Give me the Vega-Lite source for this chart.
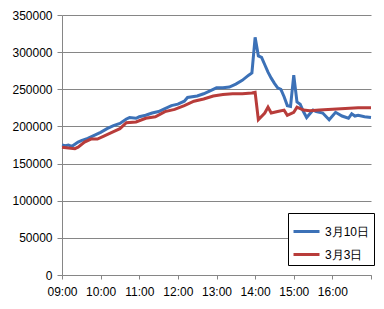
{
  "$schema": "https://vega.github.io/schema/vega-lite/v6.json",
  "width": 309,
  "height": 260,
  "autosize": "none",
  "padding": {"left": 62, "top": 15, "right": 13, "bottom": 34},
  "background": "white",
  "config": {
    "view": {"stroke": null}
  },
  "data": {
    "values": [
      {"time": "2000-01-01T09:00:00", "series": "3月10日", "value": 175000},
      {"time": "2000-01-01T09:05:00", "series": "3月10日", "value": 174000},
      {"time": "2000-01-01T09:10:00", "series": "3月10日", "value": 175000},
      {"time": "2000-01-01T09:15:00", "series": "3月10日", "value": 173000},
      {"time": "2000-01-01T09:20:00", "series": "3月10日", "value": 176000},
      {"time": "2000-01-01T09:25:00", "series": "3月10日", "value": 179000},
      {"time": "2000-01-01T09:30:00", "series": "3月10日", "value": 181000},
      {"time": "2000-01-01T09:40:00", "series": "3月10日", "value": 184000},
      {"time": "2000-01-01T09:50:00", "series": "3月10日", "value": 188000},
      {"time": "2000-01-01T10:00:00", "series": "3月10日", "value": 192000},
      {"time": "2000-01-01T10:10:00", "series": "3月10日", "value": 197000},
      {"time": "2000-01-01T10:20:00", "series": "3月10日", "value": 201000},
      {"time": "2000-01-01T10:30:00", "series": "3月10日", "value": 204000},
      {"time": "2000-01-01T10:40:00", "series": "3月10日", "value": 210000},
      {"time": "2000-01-01T10:45:00", "series": "3月10日", "value": 212000},
      {"time": "2000-01-01T10:55:00", "series": "3月10日", "value": 211000},
      {"time": "2000-01-01T11:00:00", "series": "3月10日", "value": 213000},
      {"time": "2000-01-01T11:10:00", "series": "3月10日", "value": 215000},
      {"time": "2000-01-01T11:20:00", "series": "3月10日", "value": 218000},
      {"time": "2000-01-01T11:30:00", "series": "3月10日", "value": 220000},
      {"time": "2000-01-01T11:40:00", "series": "3月10日", "value": 224000},
      {"time": "2000-01-01T11:50:00", "series": "3月10日", "value": 228000},
      {"time": "2000-01-01T12:00:00", "series": "3月10日", "value": 230000},
      {"time": "2000-01-01T12:10:00", "series": "3月10日", "value": 234000},
      {"time": "2000-01-01T12:15:00", "series": "3月10日", "value": 239000},
      {"time": "2000-01-01T12:30:00", "series": "3月10日", "value": 241000},
      {"time": "2000-01-01T12:40:00", "series": "3月10日", "value": 244000},
      {"time": "2000-01-01T12:50:00", "series": "3月10日", "value": 248000},
      {"time": "2000-01-01T13:00:00", "series": "3月10日", "value": 252000},
      {"time": "2000-01-01T13:10:00", "series": "3月10日", "value": 252000},
      {"time": "2000-01-01T13:20:00", "series": "3月10日", "value": 253000},
      {"time": "2000-01-01T13:30:00", "series": "3月10日", "value": 257000},
      {"time": "2000-01-01T13:40:00", "series": "3月10日", "value": 262000},
      {"time": "2000-01-01T13:50:00", "series": "3月10日", "value": 269000},
      {"time": "2000-01-01T13:55:00", "series": "3月10日", "value": 272000},
      {"time": "2000-01-01T14:00:00", "series": "3月10日", "value": 320000},
      {"time": "2000-01-01T14:05:00", "series": "3月10日", "value": 295000},
      {"time": "2000-01-01T14:10:00", "series": "3月10日", "value": 293000},
      {"time": "2000-01-01T14:15:00", "series": "3月10日", "value": 283000},
      {"time": "2000-01-01T14:20:00", "series": "3月10日", "value": 273000},
      {"time": "2000-01-01T14:25:00", "series": "3月10日", "value": 265000},
      {"time": "2000-01-01T14:30:00", "series": "3月10日", "value": 258000},
      {"time": "2000-01-01T14:35:00", "series": "3月10日", "value": 252000},
      {"time": "2000-01-01T14:40:00", "series": "3月10日", "value": 250000},
      {"time": "2000-01-01T14:45:00", "series": "3月10日", "value": 240000},
      {"time": "2000-01-01T14:50:00", "series": "3月10日", "value": 228000},
      {"time": "2000-01-01T14:55:00", "series": "3月10日", "value": 227000},
      {"time": "2000-01-01T15:00:00", "series": "3月10日", "value": 269000},
      {"time": "2000-01-01T15:05:00", "series": "3月10日", "value": 233000},
      {"time": "2000-01-01T15:10:00", "series": "3月10日", "value": 230000},
      {"time": "2000-01-01T15:15:00", "series": "3月10日", "value": 220000},
      {"time": "2000-01-01T15:20:00", "series": "3月10日", "value": 212000},
      {"time": "2000-01-01T15:30:00", "series": "3月10日", "value": 222000},
      {"time": "2000-01-01T15:35:00", "series": "3月10日", "value": 220000},
      {"time": "2000-01-01T15:45:00", "series": "3月10日", "value": 218000},
      {"time": "2000-01-01T15:55:00", "series": "3月10日", "value": 209000},
      {"time": "2000-01-01T16:05:00", "series": "3月10日", "value": 219000},
      {"time": "2000-01-01T16:15:00", "series": "3月10日", "value": 214000},
      {"time": "2000-01-01T16:25:00", "series": "3月10日", "value": 211000},
      {"time": "2000-01-01T16:30:00", "series": "3月10日", "value": 217000},
      {"time": "2000-01-01T16:35:00", "series": "3月10日", "value": 214000},
      {"time": "2000-01-01T16:40:00", "series": "3月10日", "value": 215000},
      {"time": "2000-01-01T16:50:00", "series": "3月10日", "value": 213000},
      {"time": "2000-01-01T17:00:00", "series": "3月10日", "value": 212000},
      {"time": "2000-01-01T09:00:00", "series": "3月3日", "value": 172000},
      {"time": "2000-01-01T09:10:00", "series": "3月3日", "value": 171000},
      {"time": "2000-01-01T09:20:00", "series": "3月3日", "value": 170000},
      {"time": "2000-01-01T09:25:00", "series": "3月3日", "value": 172000},
      {"time": "2000-01-01T09:35:00", "series": "3月3日", "value": 179000},
      {"time": "2000-01-01T09:45:00", "series": "3月3日", "value": 183000},
      {"time": "2000-01-01T09:55:00", "series": "3月3日", "value": 183000},
      {"time": "2000-01-01T10:05:00", "series": "3月3日", "value": 187000},
      {"time": "2000-01-01T10:20:00", "series": "3月3日", "value": 193000},
      {"time": "2000-01-01T10:30:00", "series": "3月3日", "value": 197000},
      {"time": "2000-01-01T10:40:00", "series": "3月3日", "value": 205000},
      {"time": "2000-01-01T10:55:00", "series": "3月3日", "value": 206000},
      {"time": "2000-01-01T11:10:00", "series": "3月3日", "value": 211000},
      {"time": "2000-01-01T11:25:00", "series": "3月3日", "value": 213000},
      {"time": "2000-01-01T11:40:00", "series": "3月3日", "value": 220000},
      {"time": "2000-01-01T11:55:00", "series": "3月3日", "value": 223000},
      {"time": "2000-01-01T12:10:00", "series": "3月3日", "value": 228000},
      {"time": "2000-01-01T12:25:00", "series": "3月3日", "value": 234000},
      {"time": "2000-01-01T12:40:00", "series": "3月3日", "value": 237000},
      {"time": "2000-01-01T12:55:00", "series": "3月3日", "value": 241000},
      {"time": "2000-01-01T13:10:00", "series": "3月3日", "value": 243000},
      {"time": "2000-01-01T13:25:00", "series": "3月3日", "value": 244000},
      {"time": "2000-01-01T13:40:00", "series": "3月3日", "value": 244000},
      {"time": "2000-01-01T13:55:00", "series": "3月3日", "value": 245000},
      {"time": "2000-01-01T14:00:00", "series": "3月3日", "value": 246000},
      {"time": "2000-01-01T14:05:00", "series": "3月3日", "value": 209000},
      {"time": "2000-01-01T14:15:00", "series": "3月3日", "value": 218000},
      {"time": "2000-01-01T14:20:00", "series": "3月3日", "value": 226000},
      {"time": "2000-01-01T14:25:00", "series": "3月3日", "value": 218000},
      {"time": "2000-01-01T14:35:00", "series": "3月3日", "value": 220000},
      {"time": "2000-01-01T14:45:00", "series": "3月3日", "value": 222000},
      {"time": "2000-01-01T14:50:00", "series": "3月3日", "value": 215000},
      {"time": "2000-01-01T15:00:00", "series": "3月3日", "value": 219000},
      {"time": "2000-01-01T15:05:00", "series": "3月3日", "value": 226000},
      {"time": "2000-01-01T15:15:00", "series": "3月3日", "value": 222000},
      {"time": "2000-01-01T15:25:00", "series": "3月3日", "value": 221000},
      {"time": "2000-01-01T15:40:00", "series": "3月3日", "value": 222000},
      {"time": "2000-01-01T16:00:00", "series": "3月3日", "value": 223000},
      {"time": "2000-01-01T16:20:00", "series": "3月3日", "value": 224000},
      {"time": "2000-01-01T16:40:00", "series": "3月3日", "value": 225000},
      {"time": "2000-01-01T17:00:00", "series": "3月3日", "value": 225000}
    ]
  },
  "mark": {"type": "line", "strokeWidth": 3},
  "encoding": {
    "x": {
      "field": "time",
      "type": "temporal",
      "title": null,
      "scale": {"nice": false},
      "axis": {
        "grid": false,
        "format": "%H:%M",
        "tickCount": 8,
        "labelFlush": false,
        "labelExpr": "datum.label == '17:00' ? '' : datum.label",
        "domainColor": "#868686",
        "tickColor": "#868686",
        "tickSize": 4,
        "labelPadding": 7,
        "labelFontSize": 12,
        "labelColor": "#000000"
      }
    },
    "y": {
      "field": "value",
      "type": "quantitative",
      "title": null,
      "scale": {"domain": [0, 350000], "nice": false},
      "axis": {
        "tickCount": 7,
        "format": ".0f",
        "gridColor": "#868686",
        "domainColor": "#868686",
        "tickColor": "#868686",
        "tickSize": 5,
        "labelPadding": 5,
        "labelFontSize": 12,
        "labelColor": "#000000"
      }
    },
    "color": {
      "field": "series",
      "type": "nominal",
      "scale": {"domain": ["3月10日", "3月3日"], "range": ["#3C71B7", "#B83C3A"]},
      "legend": {
        "title": null,
        "orient": "none",
        "legendX": 226,
        "legendY": 198,
        "strokeColor": "#000000",
        "fillColor": "#ffffff",
        "padding": 4,
        "symbolSize": 676,
        "symbolStrokeWidth": 3,
        "labelFontSize": 12,
        "labelColor": "#000000"
      }
    }
  }
}
